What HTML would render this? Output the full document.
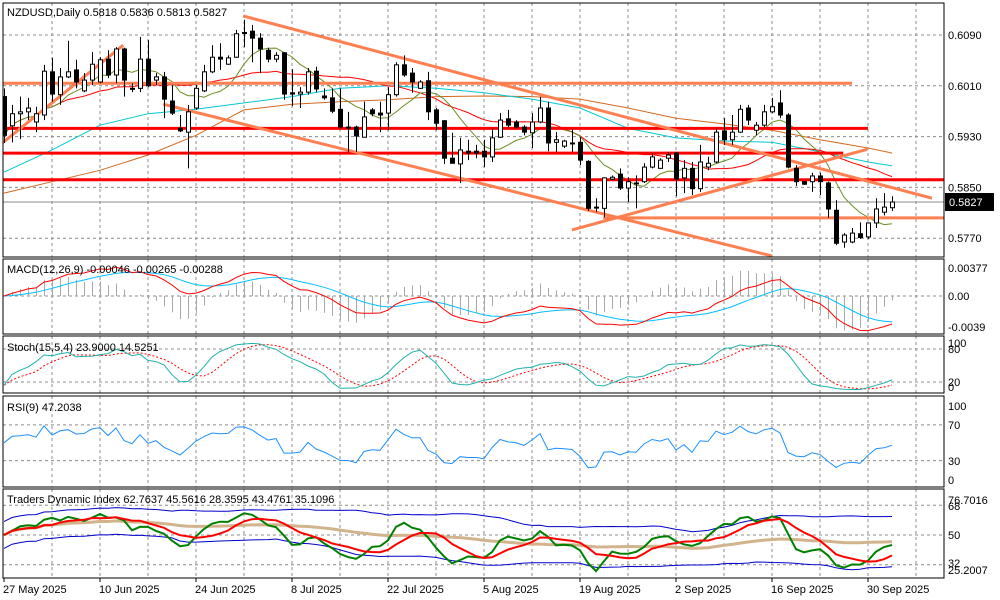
<!DOCTYPE html>
<html><head><meta charset="utf-8"><title>NZDUSD Daily</title>
<style>
html,body{margin:0;padding:0;background:#fff;}
svg{display:block;font-family:"Liberation Sans",Tahoma,sans-serif;}
.t{font-size:11px;fill:#000;}
</style></head>
<body>
<svg id="chart" width="1000" height="600" viewBox="0 0 1000 600" xmlns="http://www.w3.org/2000/svg">
<defs>
<clipPath id="cMain"><rect x="3" y="3" width="941" height="254"/></clipPath>
<clipPath id="cMacd"><rect x="3" y="259" width="941" height="75"/></clipPath>
<clipPath id="cSto"><rect x="3" y="336" width="941" height="57"/></clipPath>
<clipPath id="cRsi"><rect x="3" y="396" width="941" height="91"/></clipPath>
<clipPath id="cTdi"><rect x="3" y="489" width="941" height="89"/></clipPath>
</defs>
<rect x="0" y="0" width="1000" height="600" fill="#fff"/>
<g id="grid"></g>
<g id="main" clip-path="url(#cMain)"></g>
<g id="macd" clip-path="url(#cMacd)"></g>
<g id="sto" clip-path="url(#cSto)"></g>
<g id="rsi" clip-path="url(#cRsi)"></g>
<g id="tdi" clip-path="url(#cTdi)"></g>
<g id="frames"></g>
<g id="labels"></g>
<text class="t" x="7" y="16">NZDUSD,Daily  0.5818 0.5836 0.5813 0.5827</text>
<text class="t" x="7" y="273">MACD(12,26,9) -0.00046 -0.00265 -0.00288</text>
<text class="t" x="7" y="351">Stoch(15,5,4) 23.9000 14.5251</text>
<text class="t" x="7" y="411">RSI(9) 47.2038</text>
<text class="t" x="7" y="503">Traders Dynamic Index 62.7637 45.5616 28.3595 43.4761 35.1096</text>
</svg>
<script>
const opens=[.5993,.5947,.5966,.5969,.5953,.5964,.6032,.5996,.6024,.6035,
.6002,.6019,.6016,.6052,.6027,.6068,.6006,.6006,.6052,.6019,
.6024,.5986,.5943,.5937,.5975,.6002,.6032,.6055,.6044,.6055,
.6093,.6096,.6085,.6066,.6052,.6062,.5999,.5997,.6000,.6033,
.5994,.5991,.5973,.5945,.5945,.5929,.5972,.5967,.5967,.5996,
.6043,.6030,.6006,.6018,.5972,.5955,.5896,.5887,.5907,.5907,
.5907,.5898,.5929,.5958,.5953,.5945,.5936,.5953,.5975,.5921,
.5915,.5920,.5921,.5891,.5819,.5817,.5863,.5871,.5849,.5857,
.5859,.5882,.5880,.5896,.5904,.5865,.5880,.5848,.5882,.5890,
.5939,.5925,.5937,.5975,.5940,.5948,.5969,.5983,.5964,.5880,
.5859,.5859,.5868,.5857,.5814,.5764,.5764,.5777,.5772,.5794,
.5811,.5818];
const highs=[.6006,.5980,.5993,.5991,.5977,.6043,.6054,.6038,.6081,.6051,
.6030,.6063,.6055,.6066,.6071,.6070,.6014,.6087,.6082,.6030,
.6032,.6011,.5964,.5980,.6011,.6043,.6074,.6077,.6058,.6098,
.6114,.6106,.6093,.6070,.6063,.6063,.6036,.6008,.6038,.6040,
.6006,.6006,.6006,.5969,.5947,.5985,.5975,.5985,.6008,.6047,
.6058,.6038,.6019,.6032,.5975,.5956,.5936,.5928,.5925,.5917,
.5925,.5943,.5967,.5972,.5956,.5948,.5967,.5993,.5985,.5937,
.5925,.5942,.5929,.5893,.5833,.5866,.5869,.5880,.5866,.5869,
.5888,.5904,.5896,.5906,.5906,.5893,.5890,.5917,.5898,.5943,
.5959,.5964,.5980,.5980,.5953,.5980,.5991,.6003,.5967,.5885,
.5860,.5873,.5873,.5859,.5830,.5778,.5786,.5795,.5795,.5833,
.5841,.5836];
const lows=[.5920,.5921,.5926,.5956,.5937,.5956,.5985,.5980,.6022,.6006,
.6000,.6011,.6014,.6022,.6014,.5993,.6000,.6000,.6008,.6011,
.5959,.5964,.5937,.5880,.5972,.6000,.6030,.6035,.6043,.6054,
.6071,.6047,.6030,.6047,.6047,.5988,.5978,.5975,.5996,.6000,
.5988,.5967,.5943,.5906,.5906,.5929,.5962,.5937,.5940,.5993,
.6024,.5999,.6005,.5956,.5940,.5887,.5888,.5857,.5893,.5896,
.5882,.5890,.5928,.5945,.5943,.5932,.5912,.5951,.5907,.5906,
.5912,.5906,.5885,.5813,.5811,.5803,.5862,.5846,.5827,.5817,
.5857,.5880,.5880,.5890,.5836,.5841,.5838,.5843,.5877,.5888,
.5917,.5917,.5936,.5948,.5932,.5945,.5967,.5959,.5880,.5852,
.5854,.5843,.5838,.5802,.5759,.5755,.5762,.5769,.5769,.5786,
.5806,.5813];
const closes=[.5932,.5966,.5969,.5975,.5966,.6033,.5997,.6024,.6032,.6016,
.6019,.6044,.6051,.6027,.6068,.6019,.6005,.6052,.6010,.6024,
.5989,.5967,.5939,.5969,.6006,.6032,.6055,.6052,.6054,.6092,
.6094,.6085,.6068,.6052,.6058,.5997,.5997,.6000,.6032,.6005,
.5991,.5970,.5945,.5944,.5931,.5961,.5966,.5964,.5996,.6043,
.6027,.6016,.6016,.5969,.5951,.5896,.5888,.5909,.5904,.5904,
.5898,.5928,.5956,.5948,.5945,.5937,.5953,.5975,.5920,.5925,
.5923,.5920,.5893,.5817,.5819,.5865,.5866,.5849,.5859,.5857,
.5882,.5898,.5893,.5901,.5863,.5880,.5848,.5890,.5888,.5937,
.5925,.5937,.5973,.5956,.5948,.5969,.5977,.5964,.5882,.5859,
.5855,.5868,.5859,.5816,.5762,.5775,.5778,.5771,.5794,.5816,
.5819,.5827];
const maBars=[0,6,12,18,24,30,36,42,48,54,60,66,72,78,84,90,96,102,108,111];
const maCyan=[.5874,.5909,.5948,.5966,.5973,.5983,.5993,.6006,.6010,.6006,.5999,.5989,.5975,.5943,.5928,.5923,.5921,.5906,.5890,.5884];
const maOrange=[.5841,.5859,.5877,.5901,.5932,.5972,.5981,.5985,.5988,.5993,.5994,.5993,.5989,.5975,.5959,.5950,.5940,.5925,.5912,.5904];
const priceTicks=[0.6090,0.6010,0.5930,0.5850,0.5770];
const dateLabels=["27 May 2025","10 Jun 2025","24 Jun 2025","8 Jul 2025","22 Jul 2025","5 Aug 2025","19 Aug 2025","2 Sep 2025","16 Sep 2025","30 Sep 2025"];
const dateBars=[0,12,24,36,48,60,72,84,96,108];
const hLevels=[0.6014,0.5943,0.5904,0.5862,0.5802];
const hStart=[-1,-1,-1,-1,74.9];
const hEnd=[106,108,104.9,118,118];
const hColor=["#ff7f50","#ff0000","#ff0000","#ff0000","#ff7f50"];
const trendA=[[-0.2,0.5920],[29.9,0.6120],[19.9,0.5981],[71,0.5783]];
const trendB=[[14.9,0.6074],[116,0.5833],[96,0.5742],[107.9,0.5910]];
const lastPrice=0.5827;

const NS="http://www.w3.org/2000/svg";
function xOf(i){return 4+8*i;}
function yPrice(p){return 35+(0.6090-p)*6350;}
function yMacd(v){return 296-v/0.0001025;}
function ySto(v){return 393-v*0.55;}
function yRsi(v){return 487.5-v*0.895;}
function yTdi(v){return 535-(v-50)*1.65;}
function mk(parent,tag,attrs){const e=document.createElementNS(NS,tag);for(const k in attrs)e.setAttribute(k,attrs[k]);parent.appendChild(e);return e;}
const $=id=>document.getElementById(id);
const N=closes.length;

function sma(a,n){return a.map((_,i)=>{let s=0,c=0;for(let j=Math.max(0,i-n+1);j<=i;j++){s+=a[j];c++;}return s/c;});}
function ema(a,n){const k=2/(n+1);const r=[];a.forEach((v,i)=>r.push(i?r[i-1]+k*(v-r[i-1]):v));return r;}
function stdev(a,n){return a.map((_,i)=>{const s=a.slice(Math.max(0,i-n+1),i+1);const m=s.reduce((x,y)=>x+y,0)/s.length;return Math.sqrt(s.reduce((x,y)=>x+(y-m)*(y-m),0)/s.length);});}
function rsi(a,n){
  let seed=0;for(let i=1;i<=20;i++)seed+=Math.abs(a[i]-a[i-1]);seed/=40;
  let ag=seed,al=seed;const r=[50];
  for(let i=1;i<a.length;i++){const d=a[i]-a[i-1];const g=Math.max(d,0),l=Math.max(-d,0);ag=(ag*(n-1)+g)/n;al=(al*(n-1)+l)/n;r.push(al===0?100:100-100/(1+ag/al));}
  return r;}
function poly(parent,xs,ys,style,name){const pts=xs.map((x,i)=>x.toFixed(1)+","+ys[i].toFixed(1)).join(" ");const e=mk(parent,"polyline",Object.assign({points:pts,fill:"none"},style));return e;}

const grid=$("grid");
const panels=[[3,257],[259,334],[336,393],[396,487],[489,578]];
for(let x=52;x<944;x+=48){panels.forEach(p=>{const l=mk(grid,"line",{x1:x,x2:x,y1:p[0],y2:p[1],stroke:"#8c8c8c","stroke-dasharray":"3,3"});});}
const hg=[];priceTicks.forEach(p=>hg.push(yPrice(p)));
hg.push(yMacd(0),ySto(80),ySto(20),yRsi(70),yRsi(30),yTdi(68),yTdi(50),yTdi(32));
hg.forEach(y=>{const l=mk(grid,"line",{x1:3,x2:944,y1:y,y2:y,stroke:"#8c8c8c","stroke-dasharray":"3,3"});});

const main=$("main");
const xs=closes.map((_,i)=>xOf(i));
poly(main,maBars.map(xOf),maOrange.map(yPrice),{stroke:"#d2691e","stroke-width":1},"ma-orange");
poly(main,maBars.map(xOf),maCyan.map(yPrice),{stroke:"#00c8d2","stroke-width":1},"ma-cyan");
poly(main,xs,sma(closes,21).map(yPrice),{stroke:"#ff0000","stroke-width":1},"ma-red");
poly(main,xs,sma(closes,8).map(yPrice),{stroke:"#6b8e23","stroke-width":1},"ma-olive");
{const y=yPrice(lastPrice);const l=mk(main,"line",{x1:3,x2:944,y1:y,y2:y,stroke:"#8c8c8c","stroke-width":1});}
hLevels.forEach((p,k)=>{const y=yPrice(p);const l=mk(main,"line",{x1:xOf(hStart[k]),x2:xOf(hEnd[k]),y1:y,y2:y,stroke:hColor[k],"stroke-width":3});});
trendA.forEach((a,k)=>{const b=trendB[k];const l=mk(main,"line",{x1:xOf(a[0]),y1:yPrice(a[1]),x2:xOf(b[0]),y2:yPrice(b[1]),stroke:"#ff7f50","stroke-width":3});});
for(let i=0;i<N;i++){
  const x=xOf(i),o=opens[i],c=closes[i];
  const w=mk(main,"line",{x1:x+0.5,x2:x+0.5,y1:yPrice(highs[i]),y2:yPrice(lows[i]),stroke:"#000","stroke-width":1});
  
  
  const top=yPrice(Math.max(o,c)),bot=yPrice(Math.min(o,c));
  const r=mk(main,"rect",{x:x-1.5,y:top,width:4,height:Math.max(bot-top,1),fill:c>=o?"#fff":"#000",stroke:"#000","stroke-width":1});
  
  
}

const macdG=$("macd");
const e12=ema(closes,12),e26=ema(closes,26);
const macdLine=e12.map((v,i)=>v-e26[i]);
const sigLine=ema(macdLine,9);
macdLine.forEach((v,i)=>{const h=2*(v-sigLine[i]);const l=mk(macdG,"line",{x1:xOf(i)+0.5,x2:xOf(i)+0.5,y1:yMacd(0),y2:yMacd(h),stroke:"#a9a9a9","stroke-width":1});});
poly(macdG,xs,sigLine.map(yMacd),{stroke:"#00bfff","stroke-width":1},"macd-signal-line");
poly(macdG,xs,macdLine.map(yMacd),{stroke:"#ff0000","stroke-width":1},"macd-main-line");

const stoG=$("sto");
const hh=[],ll=[];
for(let i=0;i<N;i++){let h=-1,l=9;for(let j=Math.max(0,i-14);j<=i;j++){h=Math.max(h,highs[j]);l=Math.min(l,lows[j]);}hh.push(h);ll.push(l);}
const kLine=closes.map((_,i)=>{let a=0,b=0;for(let j=Math.max(0,i-3);j<=i;j++){a+=closes[j]-ll[j];b+=hh[j]-ll[j];}return b?100*a/b:50;});
const dLine=sma(kLine,5);
poly(stoG,xs,dLine.map(ySto),{stroke:"#ff0000","stroke-width":1,"stroke-dasharray":"2,2"},"stoch-signal-line");
poly(stoG,xs,kLine.map(ySto),{stroke:"#20b2aa","stroke-width":1},"stoch-main-line");

poly($("rsi"),xs,rsi(closes,9).map(yRsi),{stroke:"#1e90ff","stroke-width":1},"rsi-line");

const tdiG=$("tdi");
const r13=rsi(closes,13);
const base=sma(r13,34),sd=stdev(r13,34);
const up=base.map((b,i)=>b+1.6185*Math.max(sd[i],5)),dn=base.map((b,i)=>b-1.6185*Math.max(sd[i],5));
poly(tdiG,xs,up.map(yTdi),{stroke:"#0000cd","stroke-width":1},"tdi-upper-band");
poly(tdiG,xs,dn.map(yTdi),{stroke:"#0000cd","stroke-width":1},"tdi-lower-band");
poly(tdiG,xs,base.map(yTdi),{stroke:"#d2b48c","stroke-width":3},"tdi-market-base");
poly(tdiG,xs,sma(r13,2).map(yTdi),{stroke:"#008000","stroke-width":2},"tdi-price-line");
poly(tdiG,xs,sma(r13,7).map(yTdi),{stroke:"#ff0000","stroke-width":2},"tdi-signal-line");

const fr=$("frames");
panels.forEach(p=>{const r=mk(fr,"rect",{x:3,y:p[0],width:941,height:p[1]-p[0],fill:"none",stroke:"#000","stroke-width":1});});

const lb=$("labels");
function txt(x,y,s,name,fill){const t=mk(lb,"text",{x:x,y:y,"font-size":11,fill:fill||"#000"});t.textContent=s;return t;}
priceTicks.forEach(p=>txt(948,yPrice(p)+4,p.toFixed(4),"price-tick-label"));
{const y=yPrice(lastPrice);const r=mk(lb,"rect",{x:945,y:y-9,width:49,height:18,fill:"#000"});txt(949,y+4,lastPrice.toFixed(4),"current-price-label","#fff");}
txt(948,272,"0.00377","macd-tick-max");txt(948,300,"0.00","macd-tick-zero");txt(948,331,"-0.0039","macd-tick-min");
txt(948,347,"100","stoch-tick-100");txt(948,353,"80","stoch-tick-80");txt(948,386,"20","stoch-tick-20");txt(948,391,"0","stoch-tick-0");
txt(948,410,"100","rsi-tick-100");txt(948,429,"70","rsi-tick-70");txt(948,465,"30","rsi-tick-30");txt(948,484,"0","rsi-tick-0");
txt(948,504,"76.7016","tdi-tick-max");txt(948,510,"68","tdi-tick-68");txt(948,539,"50","tdi-tick-50");txt(948,567,"32","tdi-tick-32");txt(948,574,"25.2007","tdi-tick-min");
dateLabels.forEach((s,k)=>txt(xOf(dateBars[k])-1,593,s,"date-label"));
dateBars.forEach(b=>{const l=mk(lb,"line",{x1:xOf(b),x2:xOf(b),y1:578,y2:582,stroke:"#000"});});
</script>
</body></html>
